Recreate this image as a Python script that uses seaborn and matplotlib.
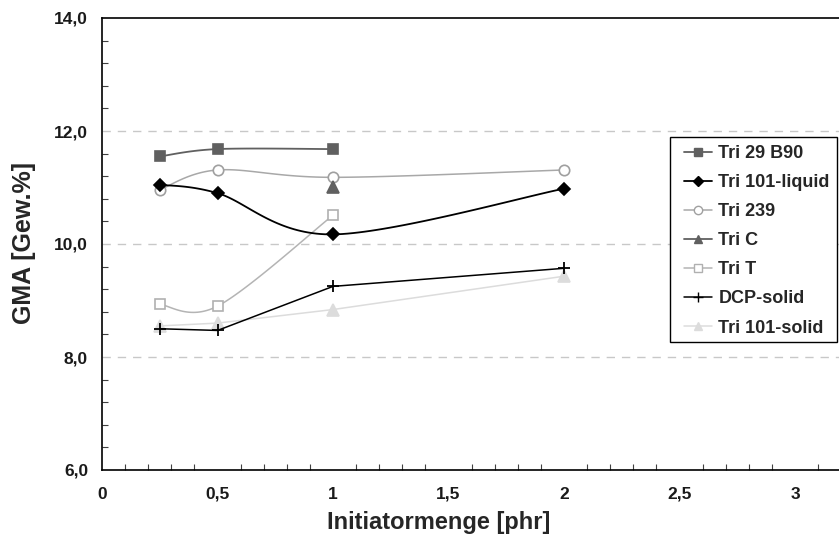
import numpy as np
import pandas as pd
import matplotlib
matplotlib.use("Agg")
import matplotlib.pyplot as plt
import seaborn as sns
from matplotlib.ticker import MultipleLocator, FixedLocator
from matplotlib.patches import Rectangle

# ---------------- data ----------------
series_names = ["Tri 29 B90", "Tri 101-liquid", "Tri 239", "Tri C", "Tri T",
                "DCP-solid", "Tri 101-solid"]
x_tri29 = [0.25, 0.5, 1.0]
y_tri29 = [11.55, 11.68, 11.68]
x_tri101l = [0.25, 0.5, 1.0, 2.0]
y_tri101l = [11.05, 10.90, 10.17, 10.98]
x_tri239 = [0.25, 0.5, 1.0, 2.0]
y_tri239 = [10.96, 11.31, 11.18, 11.31]
x_tric = [1.0]
y_tric = [11.01]
x_trit = [0.25, 0.5, 1.0]
y_trit = [8.93, 8.90, 10.51]
x_dcp = [0.25, 0.5, 1.0, 2.0]
y_dcp = [8.50, 8.47, 9.25, 9.57]
x_tri101s = [0.25, 0.5, 1.0, 2.0]
y_tri101s = [8.55, 8.60, 8.84, 9.43]

xs = [x_tri29, x_tri101l, x_tri239, x_tric, x_trit, x_dcp, x_tri101s]
ys = [y_tri29, y_tri101l, y_tri239, y_tric, y_trit, y_dcp, y_tri101s]

x_ticks = [0, 0.5, 1, 1.5, 2, 2.5, 3]
x_ticklabels = ["0", "0,5", "1", "1,5", "2", "2,5", "3"]
y_ticks = [6, 8, 10, 12, 14]
y_ticklabels = ["6,0", "8,0", "10,0", "12,0", "14,0"]
x_title = "Initiatormenge [phr]"
y_title = "GMA [Gew.%]"

# ---------------- styles ----------------
styles = [
    dict(color="#606060", marker="s", mfc="#606060", mec="#606060", ms=7, lw=1.3),
    dict(color="#000000", marker="D", mfc="#000000", mec="#000000", ms=6.5, lw=1.3),
    dict(color="#a8a8a8", marker="o", mfc="white", mec="#a0a0a0", ms=7.5, lw=1.1),
    dict(color="#606060", marker="^", mfc="#606060", mec="#606060", ms=8, lw=1.3),
    dict(color="#b4b4b4", marker="s", mfc="white", mec="#b0b0b0", ms=7.5, lw=1.1),
    dict(color="#000000", marker="+", mfc="#000000", mec="#000000", ms=9, lw=1.1),
    dict(color="#dcdcdc", marker="^", mfc="#dcdcdc", mec="#dcdcdc", ms=8, lw=1.1),
]
smooth_flags = [True, True, True, False, True, False, False]

sns.set_theme(style="white")
plt.rcParams['font.family'] = ['Liberation Sans', 'DejaVu Sans']

W, H = 839, 540
fig = plt.figure(figsize=(W / 100, H / 100), dpi=100)
L, R, T, B = 102, 839, 18, 470
ax = fig.add_axes([L / W, 1 - B / H, (R - L) / W, (B - T) / H])

XMAX = 3.19
ax.set_xlim(0, XMAX)
ax.set_ylim(6, 14)

px_per_x = (R - L) / XMAX
px_per_y = (B - T) / 8.0


def fx(px):
    return px / W


def fy(py):
    return 1 - py / H


def catmull(xv, yv, n=40):
    # smooth curve in screen space (Excel-like smoothed line)
    P = np.column_stack([np.array(xv) * px_per_x, np.array(yv) * px_per_y])
    if len(P) < 3:
        return np.array(xv), np.array(yv)
    pts = np.vstack([P[0], P, P[-1]])
    out = []
    for i in range(1, len(pts) - 2):
        p0, p1, p2, p3 = pts[i - 1], pts[i], pts[i + 1], pts[i + 2]
        c1 = p1 + (p2 - p0) / 6.0
        c2 = p2 - (p3 - p1) / 6.0
        t = np.linspace(0, 1, n)[:, None]
        seg = ((1 - t) ** 3) * p1 + 3 * ((1 - t) ** 2) * t * c1 + 3 * (1 - t) * t ** 2 * c2 + t ** 3 * p2
        out.append(seg if i == 1 else seg[1:])
    out = np.vstack(out)
    return out[:, 0] / px_per_x, out[:, 1] / px_per_y


# gridlines
for yv in [8, 10, 12]:
    ax.axhline(yv, color="#c8c8c8", lw=1.0, ls=(0, (6, 5)), zorder=0)

order_z = [3, 4, 2, 3, 2, 4, 1]
handles = []
for name, xv, yv, st, sm, z in zip(series_names, xs, ys, styles, smooth_flags, order_z):
    if sm:
        cx, cy = catmull(xv, yv)
    else:
        cx, cy = np.array(xv), np.array(yv)
    df_line = pd.DataFrame({"x": cx, "y": cy})
    if len(xv) > 1:
        sns.lineplot(data=df_line, x="x", y="y", ax=ax, color=st["color"], lw=st["lw"],
                     sort=False, estimator=None, zorder=z)
    ax.plot(xv, yv, ls="none", marker=st["marker"], markersize=st["ms"],
            markerfacecolor=st["mfc"], markeredgecolor=st["mec"],
            markeredgewidth=1.2 if st["marker"] != "+" else 1.3, zorder=z + 0.5)
    h, = ax.plot([], [], color=st["color"], lw=st["lw"], marker=st["marker"],
                 markersize=st["ms"] * 0.8, markerfacecolor=st["mfc"],
                 markeredgecolor=st["mec"])
    handles.append(h)

# axes styling
for side in ["left", "bottom", "top"]:
    ax.spines[side].set_visible(True)
    ax.spines[side].set_color("black")
    ax.spines[side].set_linewidth(1.2)
ax.spines["right"].set_visible(False)

ax.xaxis.set_major_locator(FixedLocator(x_ticks))
ax.set_xticklabels(x_ticklabels)
ax.xaxis.set_minor_locator(MultipleLocator(0.1))
ax.yaxis.set_major_locator(FixedLocator(y_ticks))
ax.set_yticklabels(y_ticklabels)
ax.yaxis.set_minor_locator(MultipleLocator(0.4))

ax.tick_params(axis="both", which="both", direction="in", length=4, width=0.8,
               color="#404040", top=False, right=False, bottom=True, left=True)
ax.tick_params(axis="x", which="major", length=0, pad=12)
ax.tick_params(axis="y", which="major", length=0, pad=10)
for lab in ax.get_xticklabels() + ax.get_yticklabels():
    lab.set_fontweight("bold")
    lab.set_fontsize(12.5)
    lab.set_color("#1a1a1a")

ax.set_xlabel("")
ax.set_ylabel("")
fig.text(fx(439), fy(529), x_title, fontsize=17, fontweight="bold",
         ha="center", va="baseline")
fig.text(fx(24), fy(243), y_title, fontsize=18, fontweight="bold",
         ha="center", va="center", rotation=90)

# legend frame (drawn as a white box) and frameless legend content
box = Rectangle((fx(670), fy(342)), fx(837) - fx(670), fy(137) - fy(342),
                transform=fig.transFigure, facecolor="white", edgecolor="black",
                lw=1.0, zorder=5)
ax.add_patch(box)
box.set_clip_on(False)

leg = ax.legend(handles, series_names, loc="upper left",
                bbox_to_anchor=(fx(684), fy(145)), bbox_transform=fig.transFigure,
                frameon=False, prop=dict(weight="bold", size=13), handlelength=1.55,
                handletextpad=0.35, labelspacing=0.67, borderpad=0,
                borderaxespad=0)
leg.set_zorder(6)

fig.savefig("out.png", dpi=100, facecolor="white")
